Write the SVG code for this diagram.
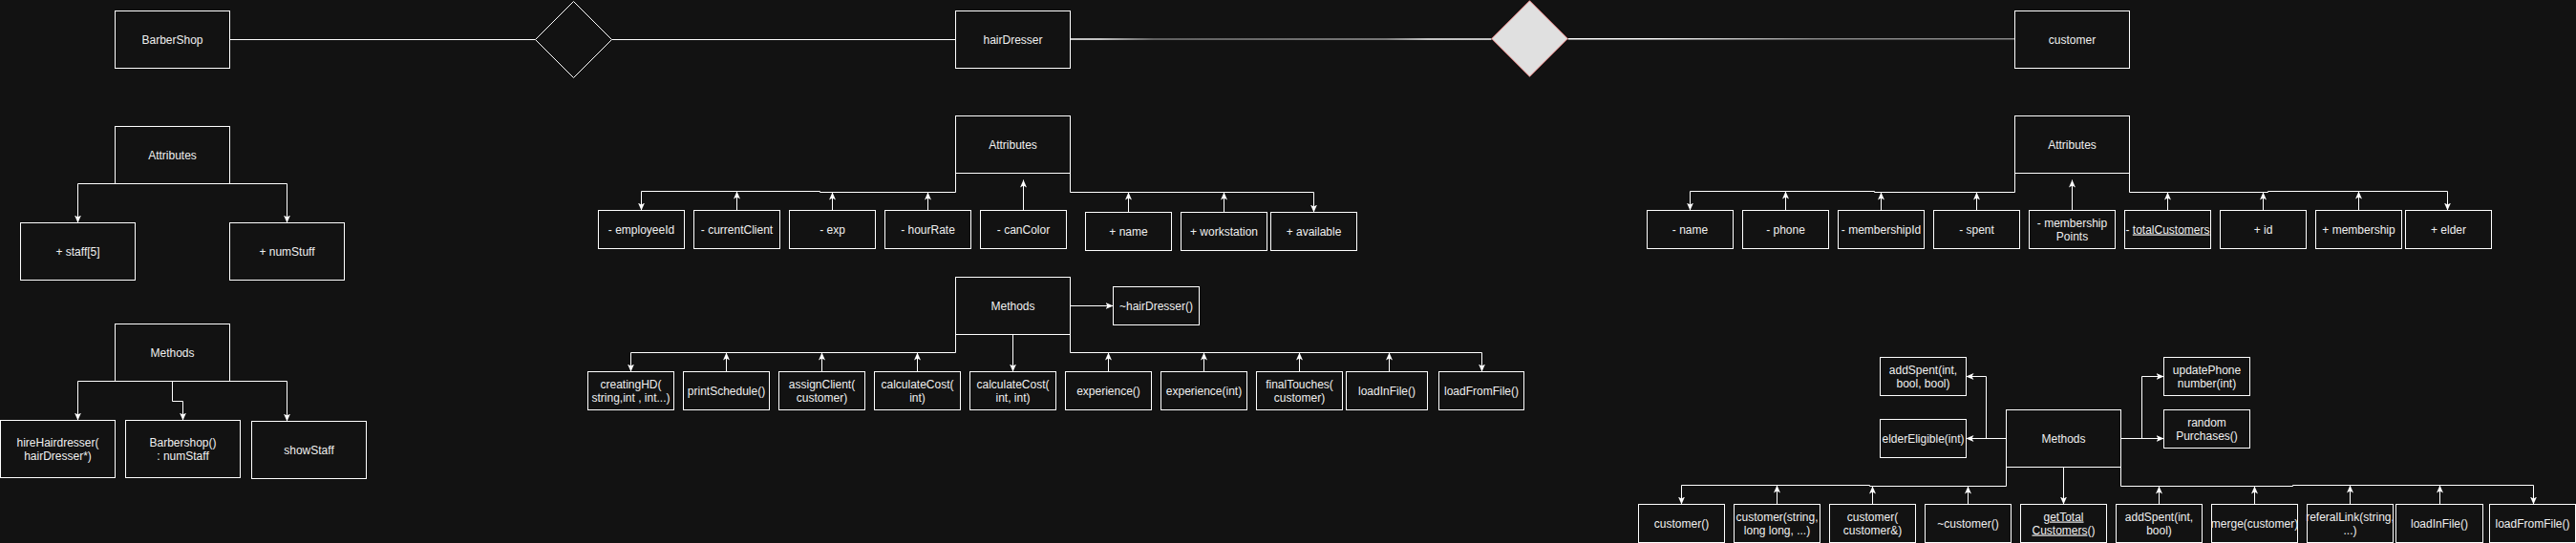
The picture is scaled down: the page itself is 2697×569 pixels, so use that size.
<svg xmlns="http://www.w3.org/2000/svg" width="2697" height="569" viewBox="0 0 2697 569">
<style>
.b{fill:#121212;stroke:#ffffff;stroke-width:1}
.t{font-family:"Liberation Sans",Arial,sans-serif;font-size:12px;fill:#f0f0f0;text-anchor:middle}
.e{fill:none;stroke:#ffffff;stroke-width:1}
.a{marker-end:url(#arr)}
.u{text-decoration:underline}
</style>
<defs>
<marker id="arr" viewBox="0 0 8 8" refX="8" refY="4" markerWidth="8" markerHeight="8" markerUnits="userSpaceOnUse" orient="auto">
<path d="M0,0.5 L8,4 L0,7.5 L2,4 Z" fill="#ffffff"/>
</marker>
<linearGradient id="g1" gradientUnits="userSpaceOnUse" x1="1120" y1="0" x2="1561" y2="0">
<stop offset="0" stop-color="#ffffff"/><stop offset="0.07" stop-color="#ffffff"/><stop offset="0.2" stop-color="#7a7a7a"/><stop offset="0.75" stop-color="#9a9a9a"/><stop offset="0.85" stop-color="#ffffff"/><stop offset="1" stop-color="#ffffff"/>
</linearGradient>
<linearGradient id="g2" gradientUnits="userSpaceOnUse" x1="1730" y1="0" x2="1900" y2="0">
<stop offset="0" stop-color="#ffffff"/><stop offset="1" stop-color="#8a8a8a"/>
</linearGradient>
</defs>
<rect x="0" y="0" width="2697" height="569" fill="#121212"/>

<g id="connectors">
<path class="e" d="M240.5,41.5 H560.5"/>
<path class="e" d="M640.5,41.5 H1000.5"/>
<path fill="none" stroke="url(#g1)" stroke-width="1.5" d="M1120.5,41 H1561.5"/>
<path fill="none" stroke="url(#g2)" stroke-width="1.5" d="M1641.5,40.75 H2109.5"/>

<path class="e a" d="M180.5,192.5 H81.5 V233.5"/>
<path class="e a" d="M180.5,192.5 H300.5 V233.5"/>
<path class="e a" d="M180.5,399.5 H81.5 V440.5"/>
<path class="e a" d="M180.5,399.5 V420.5 H191.5 V440.5"/>
<path class="e a" d="M180.5,399.5 H300.5 V441.5"/>

<path class="e a" d="M1000.5,181.5 V201.5 H858.5 V200.5 H671.5 V220.5"/>
<path class="e a" d="M771.5,220.5 V200.5"/>
<path class="e a" d="M871.5,220.5 V201.5"/>
<path class="e a" d="M971.5,220.5 V201.5"/>
<path class="e a" d="M1071.5,220.5 V188.5"/>
<path class="e a" d="M1120.5,181.5 V201.5 H1375.5 V222.5"/>
<path class="e a" d="M1181.5,222.5 V201.5"/>
<path class="e a" d="M1281.5,222.5 V201.5"/>

<path class="e a" d="M1120.5,320.5 H1165.5"/>
<path class="e a" d="M1000.5,350.5 V369.5 H660.5 V389.5"/>
<path class="e a" d="M760.5,389.5 V369.5"/>
<path class="e a" d="M860.5,389.5 V369.5"/>
<path class="e a" d="M960.5,389.5 V369.5"/>
<path class="e a" d="M1060.5,350.5 V389.5"/>
<path class="e a" d="M1120.5,350.5 V369.5 H1551.5 V389.5"/>
<path class="e a" d="M1160.5,389.5 V369.5"/>
<path class="e a" d="M1260.5,389.5 V369.5"/>
<path class="e a" d="M1360.5,389.5 V369.5"/>
<path class="e a" d="M1454.5,389.5 V369.5"/>

<path class="e a" d="M2109.5,181.5 V201.5 H1962.5 V200.5 H1769.5 V220.5"/>
<path class="e a" d="M1869.5,220.5 V200.5"/>
<path class="e a" d="M1969.5,220.5 V201.5"/>
<path class="e a" d="M2069.5,220.5 V201.5"/>
<path class="e a" d="M2169.5,220.5 V188.5"/>
<path class="e a" d="M2229.5,181.5 V201.5 H2374.5 V200.5 H2562.5 V220.5"/>
<path class="e a" d="M2269.5,220.5 V201.5"/>
<path class="e a" d="M2369.5,220.5 V201.5"/>
<path class="e a" d="M2469.5,220.5 V200.5"/>

<path class="e a" d="M2100.5,459.5 H2058.5"/>
<path class="e a" d="M2100.5,459.5 H2079.5 V394.5 H2058.5"/>
<path class="e a" d="M2220.5,459.5 H2265.5"/>
<path class="e a" d="M2220.5,459.5 H2242.5 V394.5 H2265.5"/>
<path class="e a" d="M2100.5,489.5 V509.5 H1957.5 V508.5 H1760.5 V528.5"/>
<path class="e a" d="M1860.5,528.5 V508.5"/>
<path class="e a" d="M1960.5,528.5 V509.5"/>
<path class="e a" d="M2060.5,528.5 V509.5"/>
<path class="e a" d="M2160.5,489.5 V528.5"/>
<path class="e a" d="M2220.5,489.5 V509.5 H2400.5 V508.5 H2652.5 V528.5"/>
<path class="e a" d="M2260.5,528.5 V509.5"/>
<path class="e a" d="M2360.5,528.5 V509.5"/>
<path class="e a" d="M2460.5,528.5 V508.5"/>
<path class="e a" d="M2554.5,528.5 V508.5"/>
</g>

<g id="diamond1"><polygon points="600.5,1.5 640.5,41.5 600.5,81.5 560.5,41.5" fill="#121212" stroke="#ffffff" stroke-width="1"/></g>
<g id="diamond2"><polygon points="1601.5,0.7 1641.3,40.5 1601.5,80.3 1561.7,40.5" fill="#e0e0e0" stroke="#e07a7a" stroke-width="1"/></g>

<g id="barbershop"><rect class="b" x="120.5" y="11.5" width="120" height="60"/><text class="t" x="180.5" y="45.5">BarberShop</text></g>
<g id="bs-attributes"><rect class="b" x="120.5" y="132.5" width="120" height="60"/><text class="t" x="180.5" y="166.5">Attributes</text></g>
<g id="bs-staff"><rect class="b" x="21.5" y="233.5" width="120" height="60"/><text class="t" x="81.5" y="267.5">+ staff[5]</text></g>
<g id="bs-numstuff"><rect class="b" x="240.5" y="233.5" width="120" height="60"/><text class="t" x="300.5" y="267.5">+ numStuff</text></g>
<g id="bs-methods"><rect class="b" x="120.5" y="339.5" width="120" height="60"/><text class="t" x="180.5" y="373.5">Methods</text></g>
<g id="bs-hire"><rect class="b" x="0.5" y="440.5" width="120" height="60"/><text class="t" x="60.5" y="467.5">hireHairdresser(<tspan x="60.5" dy="14">hairDresser*)</tspan></text></g>
<g id="bs-ctor"><rect class="b" x="131.5" y="440.5" width="120" height="60"/><text class="t" x="191.5" y="467.5">Barbershop()<tspan x="191.5" dy="14">: numStaff</tspan></text></g>
<g id="bs-show"><rect class="b" x="263.5" y="441.5" width="120" height="60"/><text class="t" x="323.5" y="475.5">showStaff</text></g>

<g id="hairdresser"><rect class="b" x="1000.5" y="11.5" width="120" height="60"/><text class="t" x="1060.5" y="45.5">hairDresser</text></g>
<g id="hd-attributes"><rect class="b" x="1000.5" y="121.5" width="120" height="60"/><text class="t" x="1060.5" y="155.5">Attributes</text></g>
<g id="hd-employeeid"><rect class="b" x="626.5" y="220.5" width="90" height="40"/><text class="t" x="671.5" y="244.5">- employeeId</text></g>
<g id="hd-currentclient"><rect class="b" x="726.5" y="220.5" width="90" height="40"/><text class="t" x="771.5" y="244.5">- currentClient</text></g>
<g id="hd-exp"><rect class="b" x="826.5" y="220.5" width="90" height="40"/><text class="t" x="871.5" y="244.5">- exp</text></g>
<g id="hd-hourrate"><rect class="b" x="926.5" y="220.5" width="90" height="40"/><text class="t" x="971.5" y="244.5">- hourRate</text></g>
<g id="hd-cancolor"><rect class="b" x="1026.5" y="220.5" width="90" height="40"/><text class="t" x="1071.5" y="244.5">- canColor</text></g>
<g id="hd-name"><rect class="b" x="1136.5" y="222.5" width="90" height="40"/><text class="t" x="1181.5" y="246.5">+ name</text></g>
<g id="hd-workstation"><rect class="b" x="1236.5" y="222.5" width="90" height="40"/><text class="t" x="1281.5" y="246.5">+ workstation</text></g>
<g id="hd-available"><rect class="b" x="1330.5" y="222.5" width="90" height="40"/><text class="t" x="1375.5" y="246.5">+ available</text></g>
<g id="hd-methods"><rect class="b" x="1000.5" y="290.5" width="120" height="60"/><text class="t" x="1060.5" y="324.5">Methods</text></g>
<g id="hd-dtor"><rect class="b" x="1165.5" y="300.5" width="90" height="40"/><text class="t" x="1210.5" y="324.5">~hairDresser()</text></g>
<g id="hd-creating"><rect class="b" x="615.5" y="389.5" width="90" height="40"/><text class="t" x="660.5" y="406.5">creatingHD(<tspan x="660.5" dy="14">string,int , int...)</tspan></text></g>
<g id="hd-print"><rect class="b" x="715.5" y="389.5" width="90" height="40"/><text class="t" x="760.5" y="413.5">printSchedule()</text></g>
<g id="hd-assign"><rect class="b" x="815.5" y="389.5" width="90" height="40"/><text class="t" x="860.5" y="406.5">assignClient(<tspan x="860.5" dy="14">customer)</tspan></text></g>
<g id="hd-calc1"><rect class="b" x="915.5" y="389.5" width="90" height="40"/><text class="t" x="960.5" y="406.5">calculateCost(<tspan x="960.5" dy="14">int)</tspan></text></g>
<g id="hd-calc2"><rect class="b" x="1015.5" y="389.5" width="90" height="40"/><text class="t" x="1060.5" y="406.5">calculateCost(<tspan x="1060.5" dy="14">int, int)</tspan></text></g>
<g id="hd-exp1"><rect class="b" x="1115.5" y="389.5" width="90" height="40"/><text class="t" x="1160.5" y="413.5">experience()</text></g>
<g id="hd-exp2"><rect class="b" x="1215.5" y="389.5" width="90" height="40"/><text class="t" x="1260.5" y="413.5">experience(int)</text></g>
<g id="hd-final"><rect class="b" x="1315.5" y="389.5" width="90" height="40"/><text class="t" x="1360.5" y="406.5">finalTouches(<tspan x="1360.5" dy="14">customer)</tspan></text></g>
<g id="hd-loadin"><rect class="b" x="1409.5" y="389.5" width="85" height="40"/><text class="t" x="1452" y="413.5">loadInFile()</text></g>
<g id="hd-loadfrom"><rect class="b" x="1506.5" y="389.5" width="89" height="40"/><text class="t" x="1551" y="413.5">loadFromFile()</text></g>

<g id="customer"><rect class="b" x="2109.5" y="11.5" width="120" height="60"/><text class="t" x="2169.5" y="45.5">customer</text></g>
<g id="cu-attributes"><rect class="b" x="2109.5" y="121.5" width="120" height="60"/><text class="t" x="2169.5" y="155.5">Attributes</text></g>
<g id="cu-name"><rect class="b" x="1724.5" y="220.5" width="90" height="40"/><text class="t" x="1769.5" y="244.5">- name</text></g>
<g id="cu-phone"><rect class="b" x="1824.5" y="220.5" width="90" height="40"/><text class="t" x="1869.5" y="244.5">- phone</text></g>
<g id="cu-membershipid"><rect class="b" x="1924.5" y="220.5" width="90" height="40"/><text class="t" x="1969.5" y="244.5">- membershipId</text></g>
<g id="cu-spent"><rect class="b" x="2024.5" y="220.5" width="90" height="40"/><text class="t" x="2069.5" y="244.5">- spent</text></g>
<g id="cu-points"><rect class="b" x="2124.5" y="220.5" width="90" height="40"/><text class="t" x="2169.5" y="237.5">- membership<tspan x="2169.5" dy="14">Points</tspan></text></g>
<g id="cu-total"><rect class="b" x="2224.5" y="220.5" width="90" height="40"/><text class="t" x="2269.5" y="244.5">- <tspan class="u">totalCustomers</tspan></text></g>
<g id="cu-id"><rect class="b" x="2324.5" y="220.5" width="90" height="40"/><text class="t" x="2369.5" y="244.5">+ id</text></g>
<g id="cu-membership"><rect class="b" x="2424.5" y="220.5" width="90" height="40"/><text class="t" x="2469.5" y="244.5">+ membership</text></g>
<g id="cu-elder"><rect class="b" x="2518.5" y="220.5" width="90" height="40"/><text class="t" x="2563.5" y="244.5">+ elder</text></g>
<g id="cu-methods"><rect class="b" x="2100.5" y="429.5" width="120" height="60"/><text class="t" x="2160.5" y="463.5">Methods</text></g>
<g id="cu-addspent3"><rect class="b" x="1968.5" y="374.5" width="90" height="40"/><text class="t" x="2013.5" y="391.5">addSpent(int,<tspan x="2013.5" dy="14">bool, bool)</tspan></text></g>
<g id="cu-elderelig"><rect class="b" x="1968.5" y="439.5" width="90" height="40"/><text class="t" x="2013.5" y="463.5">elderEligible(int)</text></g>
<g id="cu-updatephone"><rect class="b" x="2265.5" y="374.5" width="90" height="40"/><text class="t" x="2310.5" y="391.5">updatePhone<tspan x="2310.5" dy="14">number(int)</tspan></text></g>
<g id="cu-random"><rect class="b" x="2265.5" y="429.5" width="90" height="40"/><text class="t" x="2310.5" y="446.5">random<tspan x="2310.5" dy="14">Purchases()</tspan></text></g>
<g id="cu-ctor"><rect class="b" x="1715.5" y="528.5" width="90" height="40"/><text class="t" x="1760.5" y="552.5">customer()</text></g>
<g id="cu-ctor2"><rect class="b" x="1815.5" y="528.5" width="90" height="40"/><text class="t" x="1860.5" y="545.5">customer(string,<tspan x="1860.5" dy="14">long long, ...)</tspan></text></g>
<g id="cu-ctor3"><rect class="b" x="1915.5" y="528.5" width="90" height="40"/><text class="t" x="1960.5" y="545.5">customer(<tspan x="1960.5" dy="14">customer&amp;)</tspan></text></g>
<g id="cu-dtor"><rect class="b" x="2015.5" y="528.5" width="90" height="40"/><text class="t" x="2060.5" y="552.5">~customer()</text></g>
<g id="cu-gettotal"><rect class="b" x="2115.5" y="528.5" width="90" height="40"/><text class="t" x="2160.5" y="545.5"><tspan class="u">getTotal</tspan><tspan x="2160.5" dy="14"><tspan class="u">Customers</tspan>()</tspan></text></g>
<g id="cu-addspent2"><rect class="b" x="2215.5" y="528.5" width="90" height="40"/><text class="t" x="2260.5" y="545.5">addSpent(int,<tspan x="2260.5" dy="14">bool)</tspan></text></g>
<g id="cu-merge"><rect class="b" x="2315.5" y="528.5" width="90" height="40"/><text class="t" x="2360.5" y="552.5">merge(customer)</text></g>
<g id="cu-referal"><rect class="b" x="2415.5" y="528.5" width="90" height="40"/><text class="t" x="2460.5" y="545.5">referalLink(string,<tspan x="2460.5" dy="14">...)</tspan></text></g>
<g id="cu-loadin"><rect class="b" x="2508.5" y="528.5" width="91" height="40"/><text class="t" x="2554" y="552.5">loadInFile()</text></g>
<g id="cu-loadfrom"><rect class="b" x="2606.5" y="528.5" width="90" height="40"/><text class="t" x="2651.5" y="552.5">loadFromFile()</text></g>
</svg>
